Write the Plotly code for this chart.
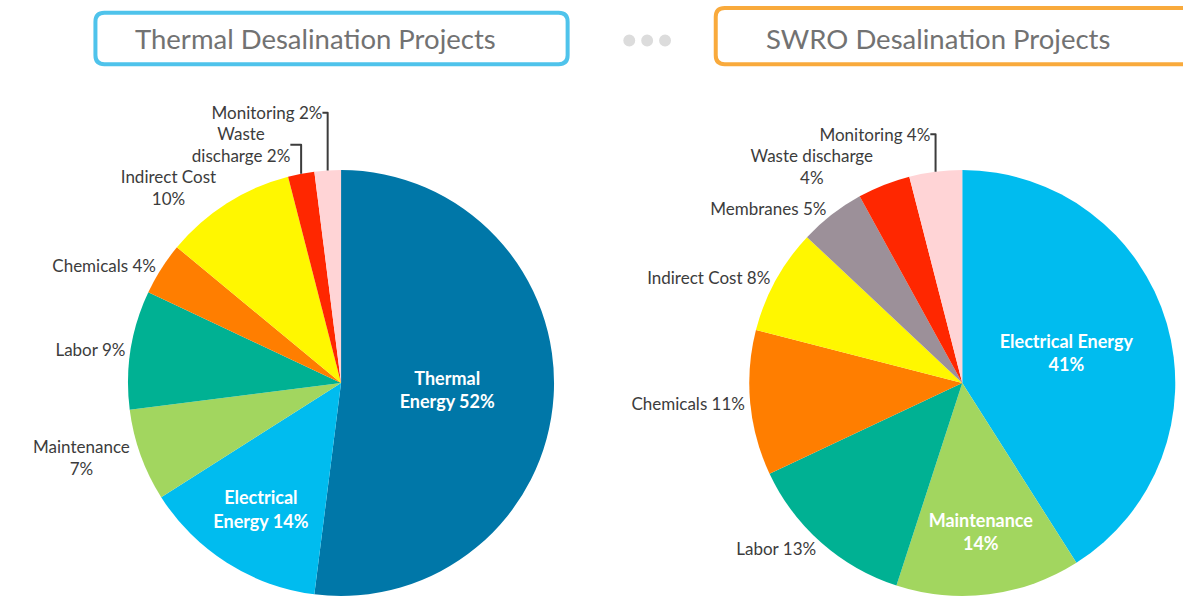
import plotly.graph_objects as go

# ---- data ----
thermal_names = ["Thermal Energy", "Electrical Energy", "Maintenance", "Labor",
                 "Chemicals", "Indirect Cost", "Waste discharge", "Monitoring"]
thermal_display = ["Thermal<br>Energy", "Electrical<br>Energy", "Maintenance", "Labor",
                   "Chemicals", "Indirect Cost", "Waste<br>discharge", "Monitoring"]
thermal_sep = [" ", " ", "<br>", " ", " ", "<br>", " ", " "]
thermal_values = [52, 14, 7, 9, 4, 10, 2, 2]
thermal_colors = ["#0077A8", "#00BCEF", "#A2D65F", "#00B193",
                  "#FF7E00", "#FFF700", "#FF2700", "#FFD4D6"]
thermal_pos = ["inside", "inside", "outside", "outside",
               "outside", "outside", "outside", "outside"]

swro_names = ["Electrical Energy", "Maintenance", "Labor", "Chemicals",
              "Indirect Cost", "Membranes", "Waste discharge", "Monitoring"]
swro_display = ["Electrical Energy", "Maintenance", "Labor", "Chemicals",
                "Indirect Cost", "Membranes", "Waste discharge", "Monitoring"]
swro_sep = ["<br>", "<br>", " ", " ", " ", " ", "<br>", " "]
swro_values = [41, 14, 13, 11, 8, 5, 4, 4]
swro_colors = ["#00BCEF", "#A2D65F", "#00B193", "#FF7E00",
               "#FFF700", "#9C9099", "#FF2700", "#FFD4D6"]
swro_pos = ["inside", "inside", "outside", "outside",
            "outside", "outside", "outside", "outside"]

titles = ["Thermal Desalination Projects", "SWRO Desalination Projects"]

FONT = "Lato"
W, H = 1183, 601
M_T, M_B = 170, 0

def texts(display, sep, values):
    return [f"{d}{s}{v}%" for d, s, v in zip(display, sep, values)]

fig = go.Figure()
fig.add_trace(go.Pie(
    labels=thermal_names, values=thermal_values,
    text=texts(thermal_display, thermal_sep, thermal_values),
    textinfo="text", textposition=thermal_pos,
    insidetextorientation="horizontal",
    sort=False, direction="clockwise", rotation=0,
    marker=dict(colors=thermal_colors, line=dict(width=0)),
    insidetextfont=dict(family=FONT, size=18, color="white", weight="bold"),
    outsidetextfont=dict(family=FONT, size=17, color="#3C3C3C"),
    domain=dict(x=[0.1085, 0.4715], y=[0, 1]),
    showlegend=False, hoverinfo="label+percent",
))
fig.add_trace(go.Pie(
    labels=swro_names, values=swro_values,
    text=texts(swro_display, swro_sep, swro_values),
    textinfo="text", textposition=swro_pos,
    insidetextorientation="horizontal",
    sort=False, direction="clockwise", rotation=0,
    marker=dict(colors=swro_colors, line=dict(width=0)),
    insidetextfont=dict(family=FONT, size=18, color="white", weight="bold"),
    outsidetextfont=dict(family=FONT, size=17, color="#3C3C3C"),
    domain=dict(x=[0.6365, 1.0], y=[0, 1]),
    showlegend=False, hoverinfo="label+percent",
))

def px(x):
    return x / W

def py(y):
    return (H - M_B - y) / (H - M_T - M_B)

def rounded_rect(x0, y0, x1, y1, r):
    return (f"M {px(x0+r)},{py(y0)} L {px(x1-r)},{py(y0)} "
            f"Q {px(x1)},{py(y0)} {px(x1)},{py(y0+r)} L {px(x1)},{py(y1-r)} "
            f"Q {px(x1)},{py(y1)} {px(x1-r)},{py(y1)} L {px(x0+r)},{py(y1)} "
            f"Q {px(x0)},{py(y1)} {px(x0)},{py(y1-r)} L {px(x0)},{py(y0+r)} "
            f"Q {px(x0)},{py(y0)} {px(x0+r)},{py(y0)} Z")

shapes = [
    dict(type="path", xref="paper", yref="paper",
         path=rounded_rect(96, 11, 571, 63, 9),
         line=dict(color="#4FC3EB", width=4), fillcolor="white", layer="below"),
    dict(type="path", xref="paper", yref="paper",
         path=rounded_rect(720, 6, 1205, 63, 9),
         line=dict(color="#F9AA3C", width=4), fillcolor="white", layer="below"),
]
for cx in [633, 651, 669]:
    shapes.append(dict(type="circle", xref="paper", yref="paper",
                       x0=px(cx - 6), x1=px(cx + 6),
                       y0=py(39 + 6), y1=py(39 - 6),
                       fillcolor="#DCDCDC", line=dict(width=0)))

annotations = [
    dict(text=titles[0], x=px(134), y=py(37), xref="paper", yref="paper",
         xanchor="left", yanchor="middle", showarrow=False,
         font=dict(family=FONT, size=27.5, color="#727272")),
    dict(text=titles[1], x=px(769), y=py(37), xref="paper", yref="paper",
         xanchor="left", yanchor="middle", showarrow=False,
         font=dict(family=FONT, size=27.5, color="#727272")),
]

fig.update_layout(
    width=W, height=H,
    margin=dict(l=0, r=0, t=M_T, b=M_B),
    paper_bgcolor="white", plot_bgcolor="white",
    shapes=shapes, annotations=annotations,
    font=dict(family=FONT),
)

fig.write_html(
    "out.html",
    config={"displayModeBar": False},
    post_script="document.body.style.margin='0';document.body.style.overflow='hidden';",
)
